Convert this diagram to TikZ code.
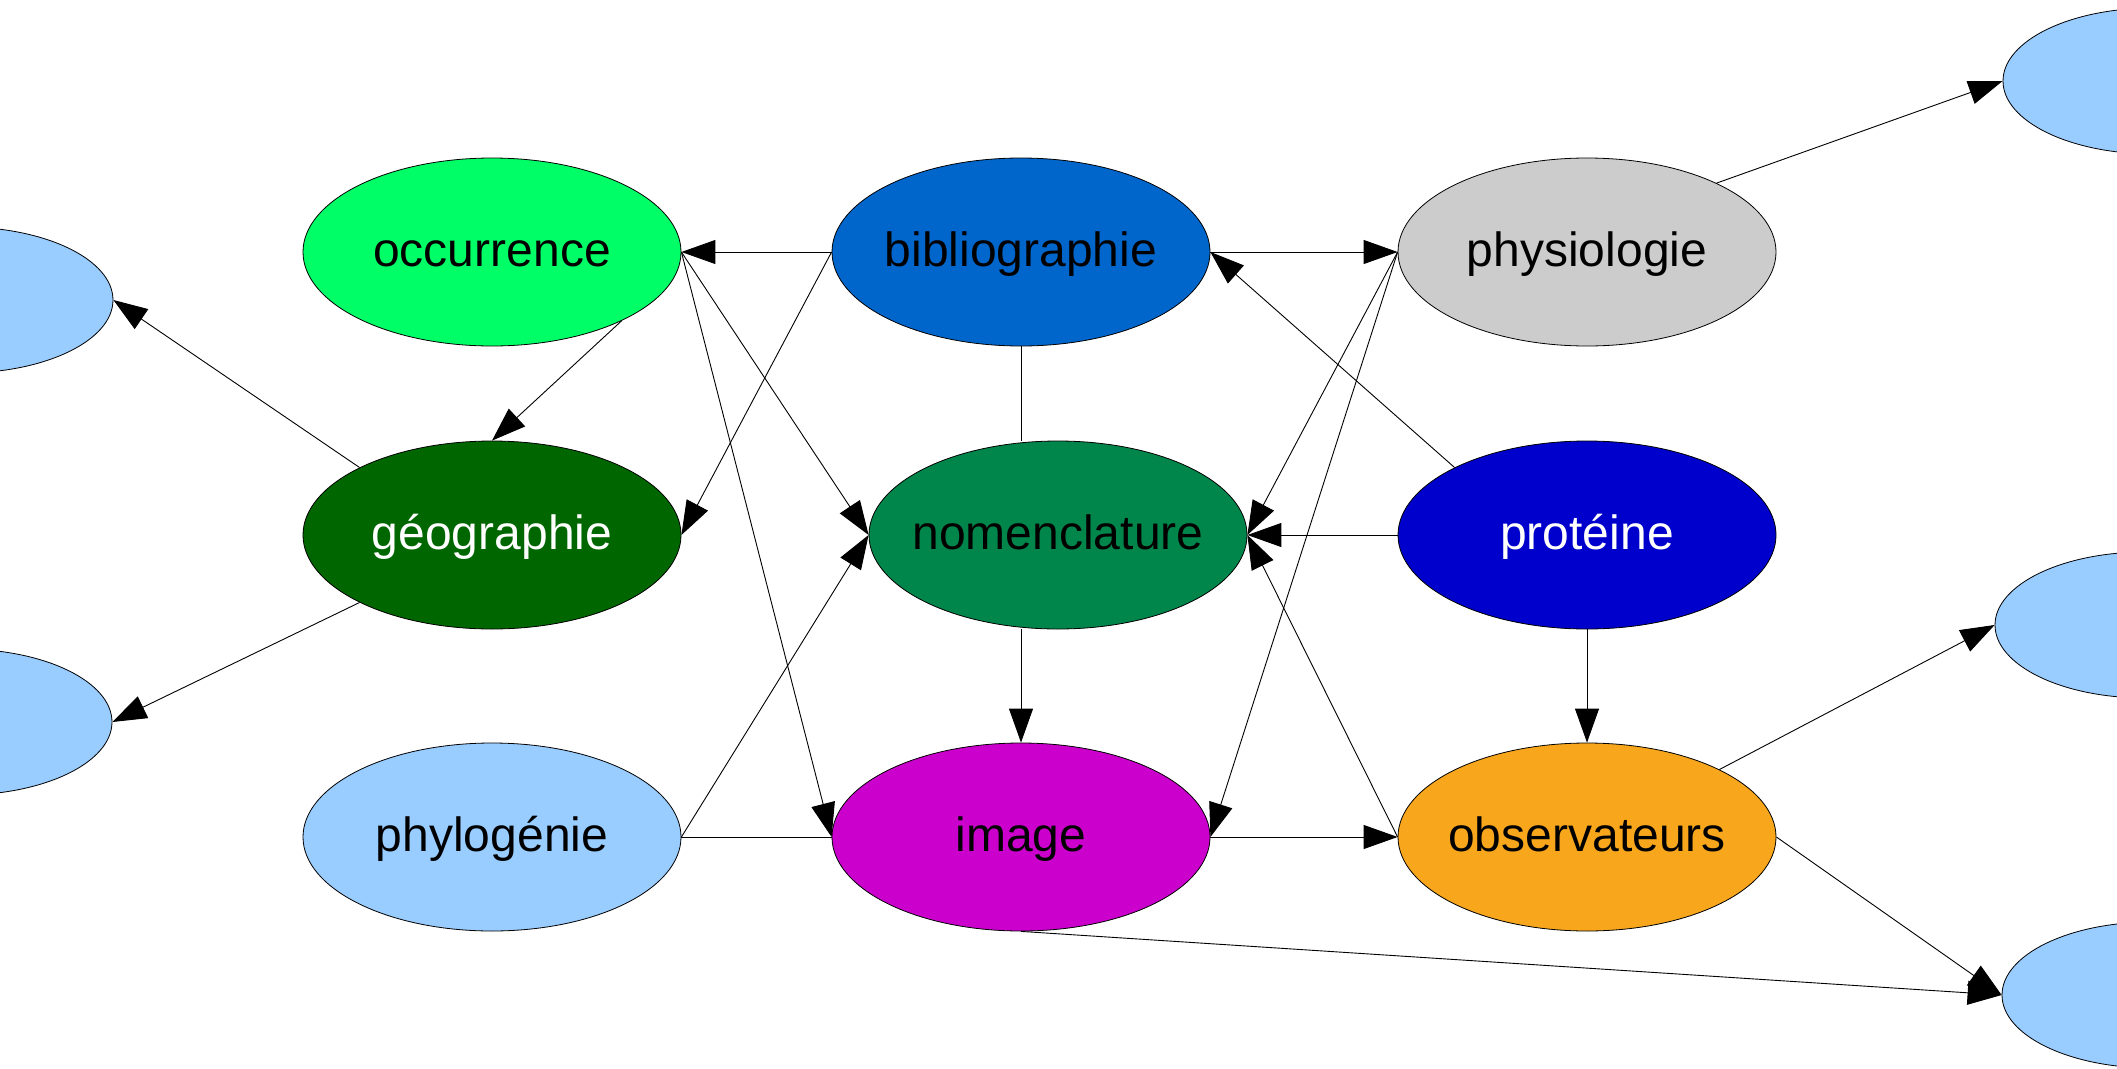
\documentclass[tikz,border=0pt]{standalone}
\usepackage{fontspec}
\setmainfont{Liberation Sans}
\usetikzlibrary{shapes.geometric,arrows.meta}
\definecolor{cOcc}{HTML}{00FF66}
\definecolor{cBib}{HTML}{0066CC}
\definecolor{cPhys}{HTML}{CCCCCC}
\definecolor{cGeo}{HTML}{006600}
\definecolor{cNom}{HTML}{00854A}
\definecolor{cProt}{HTML}{0000CC}
\definecolor{lblue}{HTML}{99CCFF}
\definecolor{cImg}{HTML}{CC00CC}
\definecolor{cObs}{HTML}{F8A61C}
\newcommand{\zb}[1]{\makebox[0pt]{#1}}
\begin{document}
\begin{tikzpicture}[x=1pt,y=-1pt,
  nd/.style={ellipse, draw=black, line width=0.8pt, minimum width=378pt, minimum height=188pt, inner sep=0pt, text height=34pt, text depth=5pt, font=\fontsize{48}{56}\selectfont},
  sm/.style={ellipse, draw=black, line width=0.8pt, fill=lblue, minimum width=300pt, minimum height=146pt, inner sep=0pt},
  arr/.style={-{Triangle[length=34pt,width=24pt]}, line width=0.9pt},
  ln/.style={line width=0.9pt}]
\useasboundingbox (0,0) rectangle (2117,1068);
\fill[white] (0,0) rectangle (2117,1068);

\node[nd, fill=cOcc] (occ) at (492,252) {\zb{occurrence}};
\node[nd, fill=cBib] (bib) at (1021,252) {\zb{bibliographie}};
\node[nd, fill=cPhys] (phys) at (1587,252) {\zb{physiologie}};
\node[nd, fill=cGeo, text=white] (geo) at (492,535) {\zb{géographie}};
\node[nd, fill=cNom] (nom) at (1058,535) {\zb{nomenclature}};
\node[nd, fill=cProt, text=white] (prot) at (1587,535) {\zb{protéine}};
\node[nd, fill=lblue] (phyl) at (492,837) {\zb{phylogénie}};
\node[nd, fill=cImg] (img) at (1021,837) {\zb{image}};
\node[nd, fill=cObs] (obs) at (1587,837) {\zb{observateurs}};

\node[sm] (L1) at (-37,300) {};
\node[sm] (L2) at (-38,722) {};
\node[sm] (R1) at (2153,81) {};
\node[sm] (R2) at (2145,625) {};
\node[sm] (R3) at (2152,995) {};

\draw[arr] (bib.west) -- (occ.east);
\draw[arr] (bib.east) -- (phys.west);
\draw[ln] (bib.south) -- (bib.south |- nom.north);
\draw[arr] (occ.east) -- (nom.west);
\draw[arr] (occ.east) -- (img.west);
\draw[arr] (bib.west) -- (geo.east);
\draw[arr] (occ.-28) -- (geo.north);
\draw[arr] (phyl.east) -- (nom.west);
\draw[ln] (phyl.east) -- (img.west);
\draw[arr] (nom.south -| img.north) -- (img.north);
\draw[arr] (phys.west) -- (nom.east);
\draw[arr] (phys.west) -- (img.east);
\draw[arr] (prot.153) -- (bib.east);
\draw[arr] (prot.west) -- (nom.east);
\draw[arr] (obs.west) -- (nom.east);
\draw[arr] (img.east) -- (obs.west);
\draw[arr] (prot.south) -- (obs.north);
\draw[arr] (phys.28) -- (R1.west);
\draw[arr] (geo.153) -- (L1.east);
\draw[arr] (geo.207) -- (L2.east);
\draw[arr] (obs.27) -- (R2.west);
\draw[arr] (obs.east) -- (R3.west);
\draw[arr] (img.south) -- (R3.west);
\end{tikzpicture}
\end{document}
